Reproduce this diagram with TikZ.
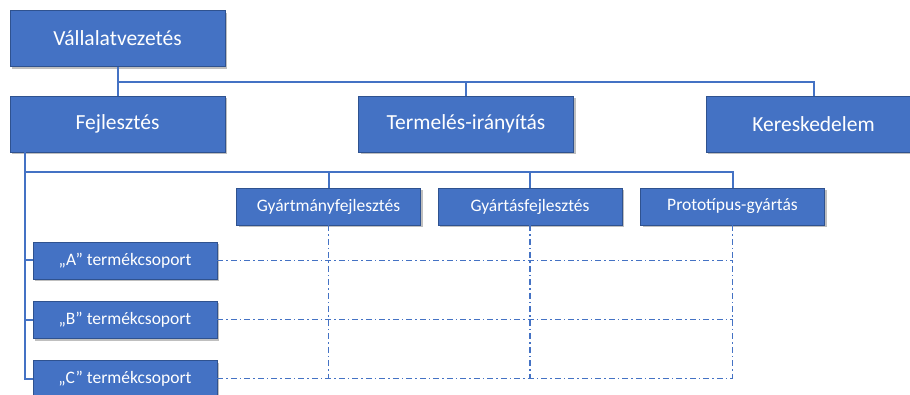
\documentclass[tikz,border=0pt]{standalone}
\usepackage{fontspec}
\setmainfont{Carlito}
\usetikzlibrary{shadows}
\definecolor{boxblue}{HTML}{4472C4}
\definecolor{boxedge}{HTML}{2F528F}
\definecolor{linkblue}{HTML}{4472C4}
\begin{document}
\begin{tikzpicture}[x=1pt,y=-1pt,
  unit/.style={draw=boxedge, line width=0.8pt, fill=boxblue, text=white, inner sep=0pt,
    drop shadow={shadow xshift=2pt, shadow yshift=-2.5pt, opacity=0.25, fill=black}},
  bigbox/.style={unit, minimum width=215pt, minimum height=56pt, font=\fontsize{21.5}{24}\selectfont},
  midbox/.style={unit, minimum width=184pt, minimum height=37pt, font=\fontsize{17.5}{20}\selectfont},
  tree/.style={draw=linkblue, line width=2pt},
  grid/.style={draw=linkblue, line width=1.1pt, dash pattern=on 6pt off 3pt on 1.5pt off 3pt}]
\useasboundingbox (0,0) rectangle (910,395);

% top level and departments
\node[bigbox] (v) at (117.5,38.5) {Vállalatvezetés};
\node[bigbox] (f) at (117.5,124) {Fejlesztés};
\node[bigbox] (t) at (466,124) {Termelés-irányítás};
\node[bigbox] (k) at (813.5,124) {Kereskedelem};

% functional units of development
\node[midbox] (gm) at (328.5,206.5) {Gyártmányfejlesztés};
\node[midbox] (gy) at (530,206.5) {Gyártásfejlesztés};
\node[midbox] (pr) at (732.5,206.5) {Prototípus-gyártás};

% product groups
\node[midbox] (a) at (125,260.5) {„A” termékcsoport};
\node[midbox] (b) at (125,319.5) {„B” termékcsoport};
\node[midbox] (c) at (125,378.5) {„C” termékcsoport};

% hierarchy lines
\coordinate (b1) at (117.5,82);
\draw[tree] (v.south) -- (f.north);
\draw[tree] (b1) -| (k.north);
\draw[tree] (b1 -| t.north) -- (t.north);

\coordinate (fl) at ([xshift=15pt]f.south west);
\coordinate (b2) at (25,172);
\draw[tree] (fl) |- (c.west);
\draw[tree] (fl |- a.west) -- (a.west);
\draw[tree] (fl |- b.west) -- (b.west);
\draw[tree] (b2) -| (pr.north);
\draw[tree] (b2 -| gm.north) -- (gm.north);
\draw[tree] (b2 -| gy.north) -- (gy.north);

% matrix grid
\foreach \r in {a,b,c}
  \draw[grid] (\r.east) -- (\r.east -| pr.south);
\foreach \u in {gm,gy,pr}
  \draw[grid] (\u.south) -- (\u.south |- c.east);
\end{tikzpicture}
\end{document}
